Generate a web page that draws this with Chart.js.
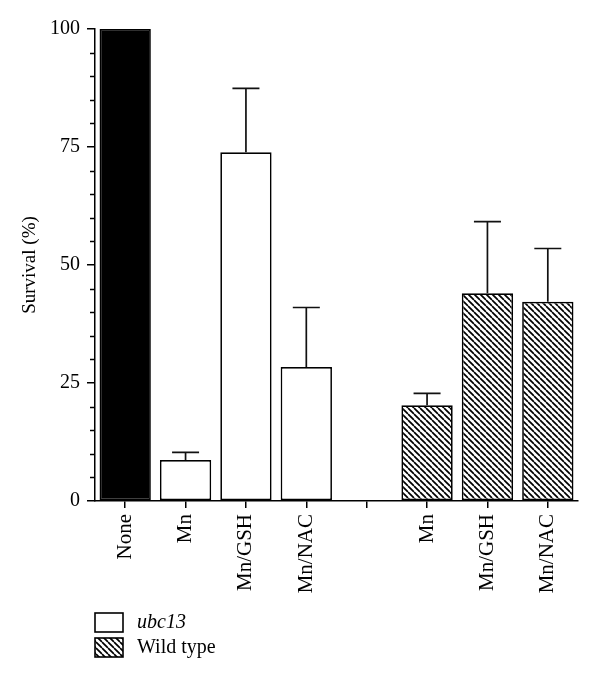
<!DOCTYPE html>
<html>
<head>
<meta charset="utf-8">
<script src="https://cdn.jsdelivr.net/npm/chart.js@4"></script>
<style>
html,body{margin:0;padding:0;background:#fff;}
#wrap{width:600px;height:683px;position:relative;}
</style>
</head>
<body>
<div id="wrap"><canvas id="c"></canvas></div>
<script>
const categories = ['None', 'Mn', 'Mn/GSH', 'Mn/NAC', '', 'Mn', 'Mn/GSH', 'Mn/NAC'];
const controlValues = [100, null, null, null, null, null, null, null];
const ubc13Values = [null, 8.7, 73.9, 28.4, null, null, null, null];
const ubc13Errors = [null, 1.6, 13.5, 12.6, null, null, null, null];
const wildTypeValues = [null, null, null, null, null, 20.3, 44.0, 42.2];
const wildTypeErrors = [null, null, null, null, null, 2.5, 15.2, 11.3];
const yMajorTicks = [0, 25, 50, 75, 100];
const legendLabels = ['ubc13', 'Wild type'];

function hatchPattern() {
  const s = 6;
  const c = document.createElement('canvas');
  c.width = s; c.height = s;
  const g = c.getContext('2d');
  g.fillStyle = '#fff';
  g.fillRect(0, 0, s, s);
  g.strokeStyle = '#000';
  g.lineWidth = 1.7;
  for (const x0 of [-s, 0, s]) {
    g.beginPath();
    g.moveTo(x0, 0);
    g.lineTo(x0 + s, s);
    g.stroke();
  }
  return g.createPattern(c, 'repeat');
}
const hatch = hatchPattern();

const errorBarPlugin = {
  id: 'errorBars',
  afterDatasetsDraw(chart) {
    const ctx = chart.ctx;
    const y = chart.scales.y;
    chart.data.datasets.forEach((ds, di) => {
      if (!ds.errors) return;
      const meta = chart.getDatasetMeta(di);
      meta.data.forEach((bar, i) => {
        const v = ds.data[i], e = ds.errors[i];
        if (v == null || e == null) return;
        const y0 = y.getPixelForValue(v);
        const y1 = y.getPixelForValue(v + e);
        ctx.save();
        ctx.strokeStyle = '#111';
        ctx.lineWidth = 1.7;
        ctx.beginPath();
        ctx.moveTo(bar.x, y0);
        ctx.lineTo(bar.x, y1);
        ctx.moveTo(bar.x - 13.5, y1);
        ctx.lineTo(bar.x + 13.5, y1);
        ctx.stroke();
        ctx.restore();
      });
    });
  }
};

const minorTickPlugin = {
  id: 'minorTicks',
  afterDraw(chart) {
    const ctx = chart.ctx;
    const y = chart.scales.y;
    const x0 = chart.chartArea.left;
    ctx.save();
    ctx.strokeStyle = '#000';
    ctx.lineWidth = 1.5;
    for (let v = 0; v <= 100; v += 5) {
      if (yMajorTicks.includes(v)) continue;
      const py = Math.round(y.getPixelForValue(v)) + 0.5;
      ctx.beginPath();
      ctx.moveTo(x0 - 5, py);
      ctx.lineTo(x0, py);
      ctx.stroke();
    }
    ctx.restore();
  }
};

const legendPlugin = {
  id: 'customLegend',
  afterDraw(chart) {
    const ctx = chart.ctx;
    const fills = ['#fff', hatch];
    const boxX = 95, boxW = 28, boxH = 19;
    const tops = [613, 638];
    ctx.save();
    legendLabels.forEach((lab, i) => {
      ctx.fillStyle = fills[i];
      ctx.fillRect(boxX, tops[i], boxW, boxH);
      ctx.strokeStyle = '#000';
      ctx.lineWidth = 1.6;
      ctx.strokeRect(boxX, tops[i], boxW, boxH);
      ctx.fillStyle = '#000';
      ctx.font = (i === 0 ? 'italic ' : '') + '20px "Liberation Serif", serif';
      ctx.textBaseline = 'alphabetic';
      ctx.fillText(lab, 137, tops[i] + 15);
    });
    ctx.restore();
  }
};

const common = { borderColor: '#000', borderWidth: 1.7, grouped: false, barPercentage: 0.85, categoryPercentage: 1.0, borderSkipped: false };

new Chart(document.getElementById('c'), {
  type: 'bar',
  data: {
    labels: categories,
    datasets: [
      Object.assign({ label: 'None', data: controlValues, backgroundColor: '#000' }, common),
      Object.assign({ label: legendLabels[0], data: ubc13Values, errors: ubc13Errors, backgroundColor: '#fff' }, common),
      Object.assign({ label: legendLabels[1], data: wildTypeValues, errors: wildTypeErrors, backgroundColor: hatch }, common)
    ]
  },
  options: {
    responsive: true,
    maintainAspectRatio: false,
    animation: false,
    layout: { padding: { top: 29, right: 22, left: 0, bottom: 0 } },
    plugins: { legend: { display: false }, tooltip: { enabled: false } },
    scales: {
      x: {
        offset: true,
        grid: { display: true, drawOnChartArea: false, offset: false, tickLength: 7, color: '#000', lineWidth: 1.5 },
        border: { display: true, color: '#000', width: 1.5 },
        ticks: { color: '#000', minRotation: 90, maxRotation: 90, padding: 6, autoSkip: false,
                  font: { family: '"Liberation Serif", serif', size: 21 } },
        afterFit(s) { s.height = 182; }
      },
      y: {
        min: 0, max: 100,
        grid: { drawOnChartArea: false, tickLength: 8, color: '#000', lineWidth: 1.5 },
        border: { display: true, color: '#000', width: 1.5 },
        ticks: { stepSize: 25, color: '#000', padding: 7,
                 font: { family: '"Liberation Serif", serif', size: 20 } },
        title: { display: true, text: 'Survival (%)', color: '#000', padding: { top: 19, bottom: 0 },
                 font: { family: '"Liberation Serif", serif', size: 19 } },
        afterFit(s) { s.width = 95; }
      }
    }
  },
  plugins: [errorBarPlugin, minorTickPlugin, legendPlugin]
});
</script>
</body>
</html>
